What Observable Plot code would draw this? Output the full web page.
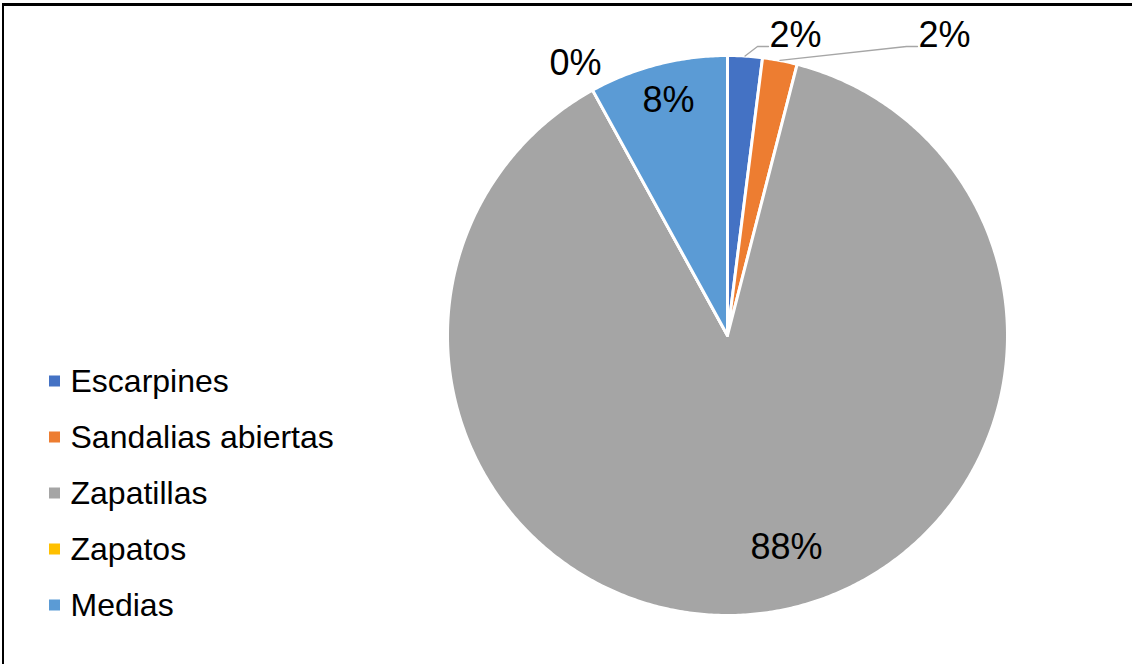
<!DOCTYPE html>
<html><head><meta charset="utf-8">
<script src="https://cdn.jsdelivr.net/npm/d3@7"></script>
<script src="https://cdn.jsdelivr.net/npm/@observablehq/plot@0.6"></script>
<style>
html,body{margin:0;padding:0;background:#fff;overflow:hidden;width:1132px;height:664px;font-family:"Liberation Sans",Arial,sans-serif;}
#topline{position:absolute;left:2px;top:3px;width:1130px;height:3px;background:#000;}
#leftline{position:absolute;left:2px;top:3px;width:2px;height:661px;background:#000;}
#chart{position:absolute;left:0;top:0;width:1132px;height:664px;}
#chart svg{display:block;}
</style></head><body>
<div id="chart"></div><div id="topline"></div><div id="leftline"></div>
<script>
// ---- data ----
const categories = ["Escarpines", "Sandalias abiertas", "Zapatillas", "Zapatos", "Medias"];
const values = [2, 2, 88, 0, 8];
const colors = ["#4472C4", "#ED7D31", "#A5A5A5", "#FFC000", "#5B9BD5"];
const labels = ["2%", "2%", "88%", "0%", "8%"];

// ---- layout ----
const W = 1132, H = 664, cx = 727, cy = 335, R = 280;
const labelXY = [[795, 35], [944, 35], [786, 547], [575, 63], [668, 100]];
const leaderIdx = [0, 1];
const leaderY = 46;
const legendTop = 381, legendStep = 56;

const arcs = d3.pie().sort(null).value(d => d)(values);

// slice polygons (center + arc outline)
const slicePts = [];
arcs.forEach((a, i) => {
  slicePts.push({cat: categories[i], x: cx, y: cy});
  const span = a.endAngle - a.startAngle;
  const n = Math.max(1, Math.ceil(span / (Math.PI / 360)));
  for (let k = 0; k <= n; k++) {
    const t = a.startAngle + span * k / n;
    slicePts.push({cat: categories[i], x: cx + R * Math.sin(t), y: cy - R * Math.cos(t)});
  }
});

// leader lines
const leaderPts = [];
leaderIdx.forEach(i => {
  const a = arcs[i];
  const m = (a.startAngle + a.endAngle) / 2;
  const textLeft = labelXY[i][0] - 25;
  const endX = textLeft - 2;
  leaderPts.push({cat: categories[i], x: cx + R * Math.sin(m), y: cy - R * Math.cos(m)});
  leaderPts.push({cat: categories[i], x: endX - 11, y: leaderY});
  leaderPts.push({cat: categories[i], x: endX, y: leaderY});
});

const idx = categories.map((_, i) => i);

const chart = Plot.plot({
  width: W, height: H,
  margin: 0,
  x: {domain: [0, W], range: [0, W], axis: null},
  y: {domain: [0, H], range: [0, H], axis: null},
  color: {domain: categories, range: colors},
  style: {fontFamily: '"Liberation Sans", Arial, sans-serif', background: "transparent"},
  marks: [
    Plot.line(slicePts, {x: "x", y: "y", z: "cat", fill: "cat", stroke: "white", strokeWidth: 3, strokeLinejoin: "round", curve: "linear-closed"}),
    Plot.line(leaderPts, {x: "x", y: "y", z: "cat", stroke: "#A6A6A6", strokeWidth: 1.3}),
    Plot.text(idx, {x: i => labelXY[i][0], y: i => labelXY[i][1], text: i => labels[i], fontSize: 36, fill: "#000"}),
    Plot.rect(idx, {x1: () => 49, x2: () => 60, y1: i => legendTop + legendStep * i - 5.5, y2: i => legendTop + legendStep * i + 5.5, fill: i => categories[i]}),
    Plot.text(idx, {x: () => 70, y: i => legendTop + legendStep * i, text: i => categories[i], textAnchor: "start", fontSize: 32, fill: "#000"})
  ]
});
document.getElementById("chart").appendChild(chart);
</script>
</body></html>
